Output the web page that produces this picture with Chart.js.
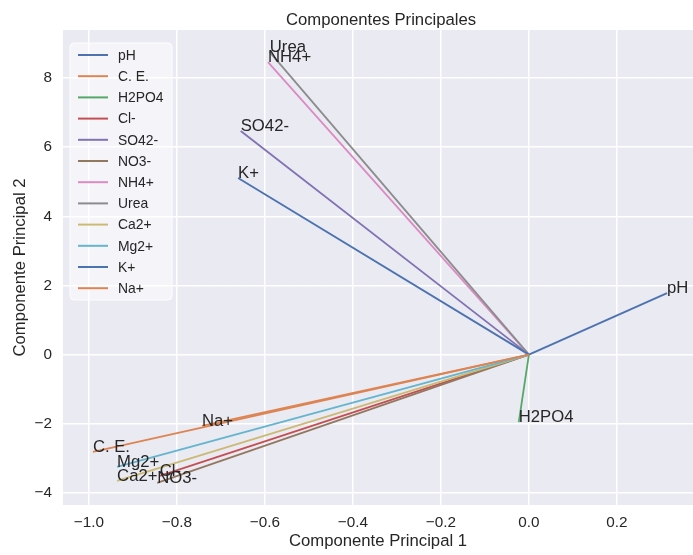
<!DOCTYPE html>
<html>
<head>
<meta charset="utf-8">
<script src="https://cdn.jsdelivr.net/npm/chart.js@4.4.1/dist/chart.umd.min.js"></script>
<style>
  html, body { margin: 0; padding: 0; background: #fff; }
  #wrap { width: 693px; height: 555px; }
</style>
</head>
<body>
<div id="wrap"><canvas id="myChart"></canvas></div>
<script>
// loadings
const variables = ['pH', 'C. E.', 'H2PO4', 'Cl-', 'SO42-', 'NO3-', 'NH4+', 'Urea', 'Ca2+', 'Mg2+', 'K+', 'Na+'];
const pc1 = [0.314, -0.991, -0.023, -0.839, -0.655, -0.845, -0.593, -0.589, -0.936, -0.936, -0.661, -0.743];
const pc2 = [1.78, -2.81, -1.95, -3.51, 6.47, -3.71, 8.46, 8.75, -3.65, -3.25, 5.11, -2.06];
const colors = ['#4C72B0', '#DD8452', '#55A868', '#C44E52', '#8172B3', '#937860',
  '#DA8BC3', '#8C8C8C', '#CCB974', '#64B5CD', '#4C72B0', '#DD8452'];

const xTicks = [-1.0, -0.8, -0.6, -0.4, -0.2, 0.0, 0.2];
const yTicks = [-4, -2, 0, 2, 4, 6, 8];

const FONT = "'Liberation Sans', Arial, sans-serif";
const TEXT = '#262626';

const fmt = (v, d) => {
  const s = Math.abs(v).toFixed(d);
  return v < -1e-9 ? '\u2212' + s : s;
};

const datasets = variables.map((name, i) => ({
  label: name,
  data: [{ x: 0, y: 0 }, { x: pc1[i], y: pc2[i] }],
  showLine: true,
  borderColor: colors[i],
  backgroundColor: colors[i],
  borderWidth: 1.8,
  pointRadius: 0,
  order: -i
}));

// background, title, arrow labels, legend
const extras = {
  id: 'extras',
  beforeDraw(chart) {
    const { ctx, chartArea: a } = chart;
    ctx.save();
    ctx.fillStyle = '#EAEAF2';
    ctx.fillRect(a.left, a.top, a.right - a.left, a.bottom - a.top);
    ctx.fillStyle = TEXT;
    ctx.font = '16.7px ' + FONT;
    ctx.textAlign = 'center';
    ctx.textBaseline = 'alphabetic';
    ctx.fillText('Componentes Principales', (a.left + a.right) / 2 + 3, 25);
    ctx.restore();
  },
  afterDatasetsDraw(chart) {
    const { ctx, scales } = chart;
    ctx.save();
    ctx.fillStyle = TEXT;
    ctx.font = '16.7px ' + FONT;
    ctx.textAlign = 'left';
    ctx.textBaseline = 'alphabetic';
    variables.forEach((name, i) => {
      ctx.fillText(name, scales.x.getPixelForValue(pc1[i]), scales.y.getPixelForValue(pc2[i]));
    });
    ctx.restore();
  },
  afterDraw(chart) {
    const { ctx, chartArea: a } = chart;
    const x0 = a.left + 7, y0 = a.top + 13, w = 102, h = 257, step = 21.2;
    ctx.save();
    ctx.beginPath();
    ctx.roundRect(x0, y0, w, h, 4);
    ctx.fillStyle = 'rgba(255,255,255,0.5)';
    ctx.fill();
    ctx.strokeStyle = 'rgba(255,255,255,0.9)';
    ctx.lineWidth = 1;
    ctx.stroke();
    ctx.font = '13.9px ' + FONT;
    ctx.textBaseline = 'middle';
    ctx.textAlign = 'left';
    variables.forEach((name, i) => {
      const y = y0 + 12 + i * step;
      ctx.strokeStyle = colors[i];
      ctx.lineWidth = 2;
      ctx.beginPath();
      ctx.moveTo(x0 + 8, y);
      ctx.lineTo(x0 + 38, y);
      ctx.stroke();
      ctx.fillStyle = TEXT;
      ctx.fillText(name, x0 + 48, y + 1);
    });
    ctx.restore();
  }
};

const config = {
  type: 'scatter',
  data: { datasets },
  options: {
    responsive: true,
    maintainAspectRatio: false,
    animation: false,
    layout: { padding: { top: 30, right: 0, left: 0, bottom: 0 } },
    plugins: {
      legend: { display: false },
      title: { display: false },
      tooltip: { enabled: false }
    },
    scales: {
      x: {
        type: 'linear',
        min: -1.059,
        max: 0.373,
        afterBuildTicks: s => { s.ticks = xTicks.map(v => ({ value: v })); },
        afterFit: s => { s.height = 50; },
        ticks: {
          padding: 9,
          color: TEXT,
          font: { family: FONT, size: 15.3 },
          callback: v => fmt(v, 1)
        },
        grid: { color: '#FFFFFF', lineWidth: 1.5, drawTicks: false },
        border: { display: false },
        title: {
          display: true,
          text: 'Componente Principal 1',
          color: TEXT,
          font: { family: FONT, size: 16.7 },
          padding: { top: 0, bottom: 4 }
        }
      },
      y: {
        type: 'linear',
        min: -4.35,
        max: 9.39,
        afterBuildTicks: s => { s.ticks = yTicks.map(v => ({ value: v })); },
        afterFit: s => { s.width = 63; },
        ticks: {
          padding: 11,
          color: TEXT,
          font: { family: FONT, size: 15.3 },
          callback: v => fmt(v, 0)
        },
        grid: { color: '#FFFFFF', lineWidth: 1.5, drawTicks: false },
        border: { display: false },
        title: {
          display: true,
          text: 'Componente Principal 2',
          color: TEXT,
          font: { family: FONT, size: 16.7 },
          padding: { top: 10, bottom: 0 }
        }
      }
    }
  },
  plugins: [extras]
};

const myChart = new Chart(document.getElementById('myChart'), config);
</script>
</body>
</html>
